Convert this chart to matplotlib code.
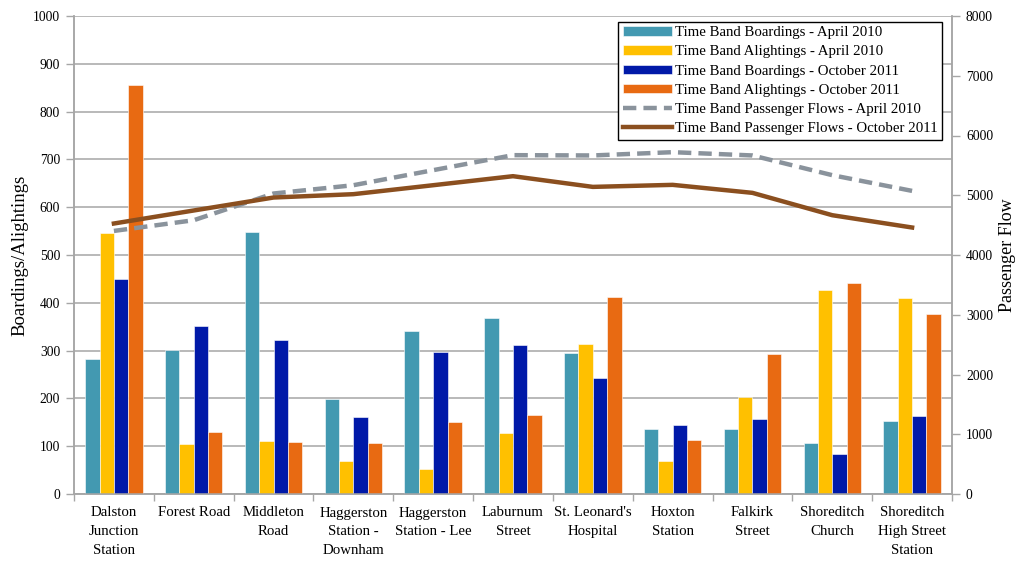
import numpy as np
import matplotlib
matplotlib.use("Agg")
import matplotlib.pyplot as plt
from matplotlib.ticker import MultipleLocator, FixedLocator

plt.rcParams['font.family'] = ['Liberation Serif', 'DejaVu Serif']

stops = ["Dalston\nJunction\nStation", "Forest Road", "Middleton\nRoad",
         "Haggerston\nStation -\nDownham", "Haggerston\nStation - Lee",
         "Laburnum\nStreet", "St. Leonard's\nHospital", "Hoxton\nStation",
         "Falkirk\nStreet", "Shoreditch\nChurch", "Shoreditch\nHigh Street\nStation"]

boardings_apr10 = [283, 302, 549, 199, 340, 368, 296, 135, 136, 107, 152]
alightings_apr10 = [546, 105, 110, 68, 53, 128, 313, 70, 203, 427, 410]
boardings_oct11 = [449, 352, 323, 161, 298, 311, 242, 144, 157, 83, 163]
alightings_oct11 = [855, 129, 109, 107, 150, 166, 413, 112, 292, 442, 377]

flows_apr10 = [4403, 4582, 5029, 5168, 5420, 5671, 5666, 5721, 5666, 5336, 5073]
flows_oct11 = [4527, 4745, 4962, 5018, 5168, 5319, 5140, 5174, 5040, 4666, 4460]

bar_series = [
    ("Time Band Boardings - April 2010", boardings_apr10, "#4399B1"),
    ("Time Band Alightings - April 2010", alightings_apr10, "#FFC000"),
    ("Time Band Boardings - October 2011", boardings_oct11, "#0019A8"),
    ("Time Band Alightings - October 2011", alightings_oct11, "#E86A12"),
]

fig = plt.figure(figsize=(10.19, 5.64), dpi=100)
ax = fig.add_axes([74 / 1019, 1 - 494 / 564, (952 - 74) / 1019, (494 - 16) / 564])
ax2 = ax.twinx()

x = np.arange(len(stops))
w = 0.18
handles = []
for i, (name, vals, col) in enumerate(bar_series):
    b = ax.bar(x + (i - 1.5) * w, vals, width=w, color=col, edgecolor="white",
               linewidth=0.4, label=name, zorder=3)
    handles.append(b)

l1, = ax2.plot(x, flows_apr10, color="#8A939C", lw=3.2, ls=(0, (3.0, 1.6)),
               label="Time Band Passenger Flows - April 2010", zorder=4)
l2, = ax2.plot(x, flows_oct11, color="#8B4F1F", lw=3.2,
               label="Time Band Passenger Flows - October 2011", zorder=4)
handles += [l1, l2]

grid_col = "#A6A6A6"
ax.set_xlim(-0.5, len(stops) - 0.5)
ax.set_ylim(0, 1000)
ax.yaxis.set_major_locator(MultipleLocator(100))
ax.grid(axis="y", color=grid_col, lw=1.1, zorder=0)
ax.set_axisbelow(True)
ax2.set_ylim(0, 8000)
ax2.yaxis.set_major_locator(MultipleLocator(1000))

ax.set_xticks(x)
ax.set_xticklabels(stops, fontsize=10.7, linespacing=1.55)
ax.xaxis.set_minor_locator(FixedLocator(np.arange(-0.5, len(stops), 1.0)))
ax.tick_params(axis="x", which="major", length=0, pad=9)
ax.tick_params(axis="x", which="minor", length=5, color=grid_col, width=1)
ax.tick_params(axis="y", length=6, color=grid_col, width=1, labelsize=9.8, pad=4)
ax2.tick_params(axis="y", length=6, color=grid_col, width=1, labelsize=9.8, pad=4)

for a in (ax, ax2):
    a.spines["top"].set_visible(False)
    for s in ("left", "right", "bottom"):
        a.spines[s].set_color(grid_col)
        a.spines[s].set_linewidth(1.1)

ax.set_ylabel("Boardings/Alightings", fontsize=13.5, labelpad=3)
ax2.set_ylabel("Passenger Flow", fontsize=13, labelpad=4)

leg = ax2.legend(handles=handles, loc="upper right", bbox_to_anchor=(0.9885, 0.988),
                 fontsize=10.7, frameon=True, fancybox=False, framealpha=1,
                 edgecolor="black", handlelength=3.3, handleheight=0.6,
                 labelspacing=0.42, borderpad=0.3, handletextpad=0.2,
                 borderaxespad=0)
leg.get_frame().set_linewidth(1.0)
leg.set_zorder(10)

fig.savefig("out.png", dpi=100)
